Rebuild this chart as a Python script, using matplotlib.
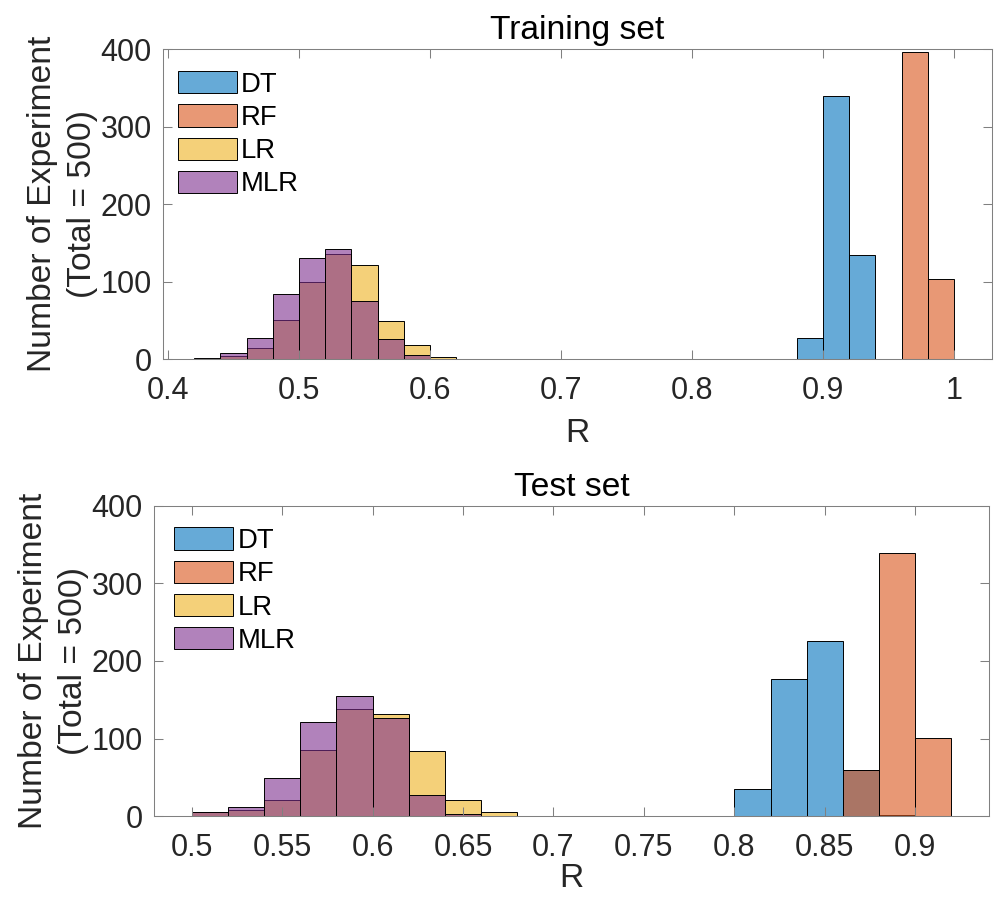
import numpy as np
import matplotlib
matplotlib.use("Agg")
import matplotlib.pyplot as plt

plt.rcParams['font.family'] = ['Liberation Sans', 'DejaVu Sans']

# MATLAB default colour order
DT_COLOR = (0.0, 0.447, 0.741)
RF_COLOR = (0.850, 0.325, 0.098)
LR_COLOR = (0.929, 0.694, 0.125)
MLR_COLOR = (0.494, 0.184, 0.556)

methods = ["DT", "RF", "LR", "MLR"]

# Training set histograms (bin edges in R, counts per bin)
train_dt_edges = [0.88, 0.90, 0.92, 0.94]
train_dt_counts = [27, 339, 134]
train_rf_edges = [0.96, 0.98, 1.00]
train_rf_counts = [396, 104]
train_lr_edges = [0.42, 0.44, 0.46, 0.48, 0.50, 0.52, 0.54, 0.56, 0.58, 0.60, 0.62]
train_lr_counts = [1, 4, 15, 51, 100, 136, 122, 50, 18, 3]
train_mlr_edges = [0.42, 0.44, 0.46, 0.48, 0.50, 0.52, 0.54, 0.56, 0.58, 0.60]
train_mlr_counts = [2, 8, 28, 84, 130, 142, 75, 26, 5]

# Test set histograms
test_dt_edges = [0.78, 0.80, 0.82, 0.84, 0.86, 0.88, 0.90]
test_dt_counts = [1, 35, 177, 226, 59, 2]
test_rf_edges = [0.86, 0.88, 0.90, 0.92]
test_rf_counts = [60, 339, 101]
test_lr_edges = [0.50, 0.52, 0.54, 0.56, 0.58, 0.60, 0.62, 0.64, 0.66, 0.68]
test_lr_counts = [5, 8, 21, 85, 138, 132, 84, 21, 6]
test_mlr_edges = [0.50, 0.52, 0.54, 0.56, 0.58, 0.60, 0.62, 0.64, 0.66, 0.68]
test_mlr_counts = [5, 12, 49, 122, 155, 126, 27, 3, 1]

train_xticks = [0.4, 0.5, 0.6, 0.7, 0.8, 0.9, 1.0]
train_xticklabels = ["0.4", "0.5", "0.6", "0.7", "0.8", "0.9", "1"]
test_xticks = [0.5, 0.55, 0.6, 0.65, 0.7, 0.75, 0.8, 0.85, 0.9]
test_xticklabels = ["0.5", "0.55", "0.6", "0.65", "0.7", "0.75", "0.8", "0.85", "0.9"]
yticks = [0, 100, 200, 300, 400]

AXIS_GRAY = "#808080"
TEXT = "#262626"


def draw_panel(ax, title, data, xlim, xticks, xticklabels, leg_anchor, xpad):
    colors = [DT_COLOR, RF_COLOR, LR_COLOR, MLR_COLOR]
    for (edges, counts), c, name in zip(data, colors, methods):
        ax.hist(edges[:-1], bins=edges, weights=counts,
                facecolor=(*c, 0.6), edgecolor="black", linewidth=0.7,
                label=name)
    ax.set_xlim(*xlim)
    ax.set_ylim(0, 400)
    ax.set_xticks(xticks, xticklabels)
    ax.set_yticks(yticks)
    ax.tick_params(direction="in", length=6.5, width=0.75, color=AXIS_GRAY,
                   labelsize=22, labelcolor=TEXT, top=True, right=True)
    ax.tick_params(axis="x", pad=12)
    ax.tick_params(axis="y", pad=8)
    for s in ax.spines.values():
        s.set_color(AXIS_GRAY)
        s.set_linewidth(0.75)
    ax.set_title(title, fontsize=24.2, color="black", pad=7)
    ax.set_xlabel("R", fontsize=24.2, color=TEXT, labelpad=xpad)
    ax.set_ylabel("Number of Experiment\n(Total = 500)", fontsize=24.2,
                  color=TEXT, linespacing=1.35, labelpad=2)
    ax.legend(loc="upper left", bbox_to_anchor=leg_anchor, frameon=False,
              fontsize=19.8, handlelength=2.15, handleheight=0.87,
              handletextpad=0.15, labelspacing=0.24, borderpad=0,
              borderaxespad=0)


fig = plt.figure(figsize=(9.95, 8.98), dpi=100)
ax1 = fig.add_axes([0.1638, 0.5999, 0.8332, 0.3455])
ax2 = fig.add_axes([0.1548, 0.0910, 0.8392, 0.3459])

draw_panel(ax1, "Training set",
           [(train_dt_edges, train_dt_counts), (train_rf_edges, train_rf_counts),
            (train_lr_edges, train_lr_counts), (train_mlr_edges, train_mlr_counts)],
           (0.3962, 1.029), train_xticks, train_xticklabels, (0.018, 0.929), 9)
draw_panel(ax2, "Test set",
           [(test_dt_edges, test_dt_counts), (test_rf_edges, test_rf_counts),
            (test_lr_edges, test_lr_counts), (test_mlr_edges, test_mlr_counts)],
           (0.4792, 0.9408), test_xticks, test_xticklabels, (0.024, 0.930), 0)

fig.savefig("out.png", dpi=100)
